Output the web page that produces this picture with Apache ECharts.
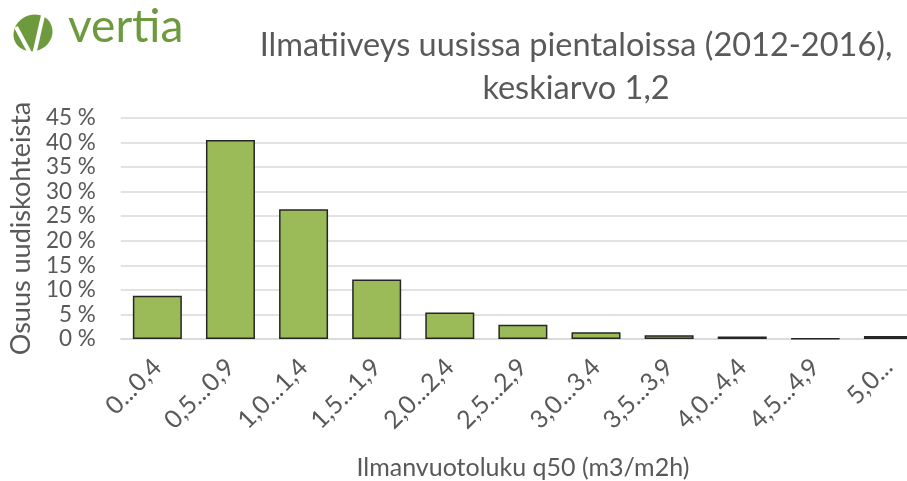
<!DOCTYPE html>
<html>
<head>
<meta charset="utf-8">
<script src="https://cdn.jsdelivr.net/npm/echarts@6/dist/echarts.min.js"></script>
<style>
html,body{margin:0;padding:0;background:#fff;overflow:hidden;width:907px;height:481px;}
#chart{width:930px;height:481px;}
</style>
</head>
<body>
<div id="chart"></div>
<script>
var categories = ['0...0,4','0,5...0,9','1,0...1,4','1,5...1,9','2,0...2,4','2,5...2,9','3,0...3,4','3,5...3,9','4,0...4,4','4,5...4,9','5,0...'];
var shares = [8.8, 40.5, 26.4, 12.1, 5.4, 2.9, 1.35, 0.75, 0.5, 0.1, 0.6];
var titleLines = ['Ilmatiiveys uusissa pientaloissa (2012-2016),', 'keskiarvo 1,2'];
var yAxisName = 'Osuus uudiskohteista';
var xAxisName = 'Ilmanvuotoluku q50 (m3/m2h)';
var logoText = 'vertia';

var FONT = 'Lato';
var TXT = '#595959';
var GREEN = '#6d9a3c';

var chart = echarts.init(document.getElementById('chart'), null, {renderer: 'canvas'});
chart.setOption({
  animation: false,
  backgroundColor: '#ffffff',
  title: {
    text: titleLines.join('\n'),
    left: 571,
    top: 19,
    textAlign: 'center',
    textStyle: {fontFamily: FONT, fontSize: 32.5, fontWeight: 'normal', color: TXT, lineHeight: 43}
  },
  grid: {left: 117, top: 118, width: 808, height: 221.3, containLabel: false},
  xAxis: {
    type: 'category',
    data: categories,
    axisLine: {show: true, lineStyle: {color: '#d9d9d9', width: 1.5}},
    axisTick: {show: false},
    axisLabel: {rotate: 45, margin: 24, interval: 0, fontFamily: FONT, fontSize: 25, color: TXT},
    name: xAxisName,
    nameLocation: 'middle',
    nameGap: 116,
    nameTextStyle: {fontFamily: FONT, fontSize: 25, color: TXT}
  },
  yAxis: {
    type: 'value',
    min: 0, max: 45, interval: 5,
    axisLine: {show: false},
    axisTick: {show: false},
    splitLine: {lineStyle: {color: '#d9d9d9', width: 1.5}},
    axisLabel: {formatter: '{value} %', margin: 25, fontFamily: FONT, fontSize: 22.5, color: TXT},
    name: yAxisName,
    nameLocation: 'middle',
    nameGap: 84,
    nameTextStyle: {fontFamily: FONT, fontSize: 27, color: TXT}
  },
  series: [{
    type: 'bar',
    data: shares,
    barWidth: 49,
    itemStyle: {color: '#9bbb59', borderColor: '#262626', borderWidth: 1.5}
  }],
  graphic: [
    {type: 'ellipse', shape: {cx: 0, cy: 0, rx: 20, ry: 18}, x: 33, y: 33, rotation: 0.5,
      style: {fill: GREEN}},
    {type: 'polyline', shape: {points: [[16, 27], [31, 55]]}, style: {stroke: '#fff', lineWidth: 4, fill: null}},
    {type: 'polyline', shape: {points: [[44, 11], [34, 55]]}, style: {stroke: '#fff', lineWidth: 4, fill: null}},
    {type: 'text', left: 68, top: 4, style: {text: logoText, fontFamily: FONT, fontSize: 46, fill: GREEN}}
  ]
});
</script>
</body>
</html>
